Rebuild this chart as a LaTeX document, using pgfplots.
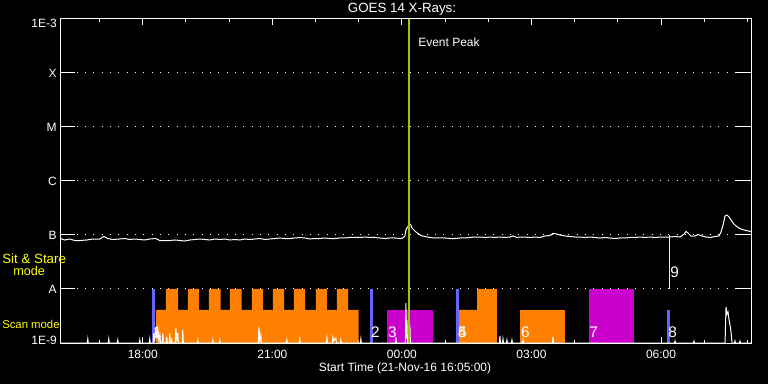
\documentclass[border=0pt]{standalone}
\usepackage{fontspec}
\setmainfont{Liberation Sans}
\usepackage{pgfplots}
\pgfplotsset{compat=1.18}
\definecolor{orng}{HTML}{FF8000}
\definecolor{mgnt}{HTML}{CC00CC}
\definecolor{blu}{HTML}{6464FF}
\definecolor{grn}{HTML}{99CC00}
\definecolor{ylw}{HTML}{FFFF00}
\begin{document}
\begin{tikzpicture}
\useasboundingbox (0,0) rectangle (576pt,288pt);
\fill[black] (0,0) rectangle (576pt,288pt);
\begin{axis}[
  at={(45pt,30.75pt)}, anchor=south west,
  scale only axis, width=518.25pt, height=243pt,
  xmin=16.0833, xmax=32.0833,
  ymode=log, ymin=1e-9, ymax=1e-3,
  axis line style={white, line width=0.75pt},
  tick align=inside,
  major tick length=4.5pt, minor tick length=2.25pt,
  tick style={white, line width=0.75pt},
  xtick={18,21,24,27,30},
  xticklabels={18:00,21:00,00:00,03:00,06:00},
  minor xtick={17,19,20,22,23,25,26,28,29,31,32},
  ytick={1e-9,1e-8,1e-7,1e-6,1e-5,1e-4,1e-3},
  yticklabels={\raisebox{2.25pt}[\height][\depth]{1E-9},A\hspace{7.5pt},B\hspace{7.5pt},C\hspace{7.5pt},M\hspace{7.5pt},X\hspace{7.5pt},\raisebox{-3pt}[\height][\depth]{1E-3}},
  yminorticks=false,
  ymajorgrids,
  major grid style={white, line width=0.75pt, dash pattern=on 0.75pt off 5.5pt},
  tick label style={font=\fontsize{9}{10}\selectfont, text=white},
  xticklabel style={inner sep=0pt, yshift=-5.25pt},
  yticklabel style={inner sep=0pt, xshift=-2.25pt, anchor=east},
]
% observation bars
\addplot[fill=orng, draw=none] coordinates {(18.302,1e-9)(18.302,4.1e-9)(18.533,4.1e-9)(18.533,1e-8)(18.818,1e-8)(18.818,4.1e-9)(19.043,4.1e-9)(19.043,1e-8)(19.305,1e-8)(19.305,4.1e-9)(19.529,4.1e-9)(19.529,1e-8)(19.800,1e-8)(19.800,4.1e-9)(20.016,4.1e-9)(20.016,1e-8)(20.287,1e-8)(20.287,4.1e-9)(20.525,4.1e-9)(20.525,1e-8)(20.787,1e-8)(20.787,4.1e-9)(21.012,4.1e-9)(21.012,1e-8)(21.274,1e-8)(21.274,4.1e-9)(21.498,4.1e-9)(21.498,1e-8)(21.760,1e-8)(21.760,4.1e-9)(22.008,4.1e-9)(22.008,1e-8)(22.270,1e-8)(22.270,4.1e-9)(22.494,4.1e-9)(22.494,1e-8)(22.756,1e-8)(22.756,4.1e-9)(22.997,4.1e-9)(22.997,1e-9)} -- cycle;
\addplot[fill=orng, draw=none] coordinates {(25.304,1e-9)(25.304,4.1e-9)(25.744,4.1e-9)(25.744,1e-8)(26.201,1e-8)(26.201,1e-9)} -- cycle;
\addplot[fill=orng, draw=none] coordinates {(26.733,1e-9)(26.733,4.1e-9)(27.776,4.1e-9)(27.776,1e-9)} -- cycle;
\addplot[fill=mgnt, draw=none] coordinates {(23.653,1e-9)(23.653,4.1e-9)(24.711,4.1e-9)(24.711,1e-9)} -- cycle;
\addplot[fill=mgnt, draw=none] coordinates {(28.332,1e-9)(28.332,1e-8)(29.374,1e-8)(29.374,1e-9)} -- cycle;
\addplot[fill=blu, draw=none] coordinates {(18.209,1e-9)(18.209,1e-8)(18.279,1e-8)(18.279,1e-9)} -- cycle;
\addplot[fill=blu, draw=none] coordinates {(23.259,1e-9)(23.259,1e-8)(23.321,1e-8)(23.321,1e-9)} -- cycle;
\addplot[fill=blu, draw=none] coordinates {(25.251,1e-9)(25.251,1e-8)(25.313,1e-8)(25.313,1e-9)} -- cycle;
\addplot[fill=blu, draw=none] coordinates {(30.138,1e-9)(30.138,4.1e-9)(30.208,4.1e-9)(30.208,1e-9)} -- cycle;
% long channel
\addplot[white, line width=0.75pt] coordinates {(16.078,8.8e-8)(16.124,8.43e-8)(16.194,8.08e-8)(16.310,8.43e-8)(16.425,7.91e-8)(16.541,7.91e-8)(16.703,8.08e-8)(16.842,8.43e-8)(17.004,8.43e-8)(17.097,9.38e-8)(17.190,8.61e-8)(17.306,8.25e-8)(17.468,8.43e-8)(17.584,8.61e-8)(17.699,8.25e-8)(17.815,8.43e-8)(17.931,8.25e-8)(18.047,8.08e-8)(18.163,8.43e-8)(18.302,8.61e-8)(18.394,7.91e-8)(18.510,7.91e-8)(18.626,7.91e-8)(18.742,8.08e-8)(18.858,7.91e-8)(18.973,7.74e-8)(19.089,8.08e-8)(19.205,8.25e-8)(19.321,8.43e-8)(19.437,8.25e-8)(19.553,8.08e-8)(19.668,8.43e-8)(19.784,8.25e-8)(19.900,8.43e-8)(20.016,8.08e-8)(20.132,8.25e-8)(20.247,8.08e-8)(20.363,8.43e-8)(20.479,8.25e-8)(20.595,8.43e-8)(20.711,8.61e-8)(20.827,8.25e-8)(20.942,8.43e-8)(21.058,8.61e-8)(21.174,8.80e-8)(21.290,8.61e-8)(21.406,8.61e-8)(21.521,8.80e-8)(21.637,8.99e-8)(21.753,8.80e-8)(21.869,8.43e-8)(21.985,8.61e-8)(22.101,8.61e-8)(22.216,8.80e-8)(22.332,8.61e-8)(22.448,8.61e-8)(22.564,8.80e-8)(22.680,8.80e-8)(22.795,8.99e-8)(22.911,8.99e-8)(23.027,8.99e-8)(23.143,9.18e-8)(23.259,8.99e-8)(23.375,8.99e-8)(23.490,8.80e-8)(23.606,8.61e-8)(23.722,8.80e-8)(23.838,8.80e-8)(23.954,8.61e-8)(24.023,8.80e-8)(24.069,9.58e-8)(24.093,1.24e-7)(24.116,1.35e-7)(24.185,1.60e-7)(24.208,1.53e-7)(24.232,1.35e-7)(24.278,1.24e-7)(24.324,1.14e-7)(24.371,1.07e-7)(24.440,0.979e-7)(24.533,9.38e-8)(24.649,8.99e-8)(24.764,8.80e-8)(24.880,8.80e-8)(24.996,8.80e-8)(25.112,8.61e-8)(25.228,8.61e-8)(25.344,8.80e-8)(25.459,8.80e-8)(25.575,8.99e-8)(25.691,9.18e-8)(25.807,9.18e-8)(25.923,8.99e-8)(26.038,9.18e-8)(26.154,8.99e-8)(26.270,9.18e-8)(26.386,8.99e-8)(26.502,9.18e-8)(26.571,9.58e-8)(26.664,8.99e-8)(26.733,9.18e-8)(26.849,9.18e-8)(26.965,8.99e-8)(27.081,9.18e-8)(27.197,8.99e-8)(27.312,9.58e-8)(27.428,9.79e-8)(27.498,1.07e-7)(27.590,1.04e-7)(27.660,1.00e-7)(27.776,9.58e-8)(27.892,9.38e-8)(28.007,9.18e-8)(28.123,9.18e-8)(28.239,8.99e-8)(28.355,9.18e-8)(28.471,8.99e-8)(28.586,8.80e-8)(28.702,8.99e-8)(28.818,8.80e-8)(28.934,8.61e-8)(29.050,8.80e-8)(29.166,8.80e-8)(29.281,8.99e-8)(29.397,8.99e-8)(29.513,9.18e-8)(29.629,8.99e-8)(29.745,9.18e-8)(29.860,8.99e-8)(29.976,9.18e-8)(30.092,9.18e-8)(30.208,9.18e-8)(30.324,9.38e-8)(30.440,9.18e-8)(30.532,1.04e-7)(30.579,1.16e-7)(30.625,1.09e-7)(30.694,9.58e-8)(30.787,9.58e-8)(30.857,1.02e-7)(30.949,9.58e-8)(31.042,9.18e-8)(31.135,8.99e-8)(31.250,9.38e-8)(31.343,9.58e-8)(31.389,1.14e-7)(31.436,1.53e-7)(31.482,2.25e-7)(31.528,2.34e-7)(31.574,2.16e-7)(31.621,1.90e-7)(31.667,1.67e-7)(31.713,1.53e-7)(31.783,1.38e-7)(31.853,1.29e-7)(31.922,1.24e-7)(32.015,1.19e-7)(32.084,1.16e-7)};
% short channel
\addplot[white, line width=0.75pt] coordinates {(16.0833,1e-9)
(16.715,1e-9)(16.727,1.19e-9)(16.739,1e-9)
(17.201,1e-9)(17.213,1.19e-9)(17.225,1e-9)
(17.409,1e-9)(17.421,1.14e-9)(17.433,1e-9)
(17.919,1e-9)(17.931,1.14e-9)(17.943,1e-9)
(18.151,1e-9)(18.163,1.19e-9)(18.175,1e-9)
(18.243,1e-9)(18.255,1.53e-9)(18.279,1.1e-9)(18.302,1.98e-9)(18.325,1.2e-9)(18.348,1.74e-9)(18.371,1.1e-9)(18.394,1.41e-9)(18.41,1e-9)
(18.452,1e-9)(18.464,1.53e-9)(18.476,1e-9)
(18.544,1e-9)(18.556,1.29e-9)(18.568,1e-9)
(18.614,1e-9)(18.626,1.53e-9)(18.638,1e-9)
(18.660,1e-9)(18.672,1.14e-9)(18.684,1e-9)
(18.753,1e-9)(18.765,1.90e-9)(18.788,1.15e-9)(18.811,1.53e-9)(18.823,1e-9)
(18.915,1e-9)(18.927,1.74e-9)(18.939,1e-9)
(19.263,1e-9)(19.275,1.14e-9)(19.287,1e-9)
(19.610,1e-9)(19.622,1.14e-9)(19.634,1e-9)
(19.772,1e-9)(19.784,1.14e-9)(19.796,1e-9)
(20.676,1e-9)(20.688,1.98e-9)(20.711,1.1e-9)(20.734,1.41e-9)(20.746,1e-9)
(21.324,1e-9)(21.336,1.14e-9)(21.348,1e-9)
(21.625,1e-9)(21.637,1.19e-9)(21.649,1e-9)
(22.251,1e-9)(22.263,1.24e-9)(22.275,1e-9)
(22.390,1e-9)(22.402,1.29e-9)(22.425,1.1e-9)(22.471,1.24e-9)(22.483,1e-9)
(22.575,1e-9)(22.587,1.14e-9)(22.599,1e-9)
(23.038,1e-9)(23.050,1.19e-9)(23.062,1e-9)
(23.849,1e-9)(23.861,1.29e-9)(23.873,1e-9)
(24.081,1e-9)(24.093,5.50e-9)(24.104,1.2e-9)(24.116,2.67e-9)(24.128,1e-9)
(24.173,1e-9)(24.185,2.15e-9)(24.197,1e-9)
(26.258,1e-9)(26.270,1.35e-9)(26.282,1e-9)
(26.328,1e-9)(26.340,1.19e-9)(26.352,1e-9)
(26.420,1e-9)(26.432,1.14e-9)(26.444,1e-9)
(26.536,1e-9)(26.548,1.14e-9)(26.560,1e-9)
(26.791,1e-9)(26.803,1.14e-9)(26.815,1e-9)
(27.486,1e-9)(27.498,1.29e-9)(27.510,1e-9)
(30.312,1e-9)(30.324,1.09e-9)(30.336,1e-9)
(30.752,1e-9)(30.764,1.09e-9)(30.776,1e-9)
(31.482,1e-9)(31.505,4.64e-9)(31.528,3.44e-9)(31.551,3.75e-9)(31.574,2.70e-9)(31.598,2.15e-9)(31.621,1.60e-9)(31.644,1e-9)
(31.701,1e-9)(31.713,1.09e-9)(31.725,1e-9)
(31.817,1e-9)(31.829,1.09e-9)(31.841,1e-9)
(32.0833,1e-9)};
% event peak and sit & stare markers
\addplot[grn, line width=1.5pt] coordinates {(24.162,1e-9)(24.162,1e-3)};
\addplot[ylw, line width=0.75pt] coordinates {(30.185,1e-8)(30.185,1e-7)};
% long y ticks
\draw[white, line width=0.75pt] (axis cs:16.0833,1e-8) -- ([xshift=11.25pt]axis cs:16.0833,1e-8);
\draw[white, line width=0.75pt] (axis cs:16.0833,1e-7) -- ([xshift=11.25pt]axis cs:16.0833,1e-7);
\draw[white, line width=0.75pt] (axis cs:16.0833,1e-6) -- ([xshift=11.25pt]axis cs:16.0833,1e-6);
\draw[white, line width=0.75pt] (axis cs:16.0833,1e-5) -- ([xshift=11.25pt]axis cs:16.0833,1e-5);
\draw[white, line width=0.75pt] (axis cs:16.0833,1e-4) -- ([xshift=11.25pt]axis cs:16.0833,1e-4);
\draw[white, line width=0.75pt] (axis cs:32.0833,1e-8) -- ([xshift=-11.25pt]axis cs:32.0833,1e-8);
\draw[white, line width=0.75pt] (axis cs:32.0833,1e-7) -- ([xshift=-11.25pt]axis cs:32.0833,1e-7);
\draw[white, line width=0.75pt] (axis cs:32.0833,1e-6) -- ([xshift=-11.25pt]axis cs:32.0833,1e-6);
\draw[white, line width=0.75pt] (axis cs:32.0833,1e-5) -- ([xshift=-11.25pt]axis cs:32.0833,1e-5);
\draw[white, line width=0.75pt] (axis cs:32.0833,1e-4) -- ([xshift=-11.25pt]axis cs:32.0833,1e-4);
% numbers
\begin{scope}[every node/.style={anchor=west, inner sep=0pt, text=white, font=\fontsize{11.5}{12}\selectfont}]
\node at (axis cs:18.232,1.56e-9) {1};
\node at (axis cs:23.282,1.56e-9) {2};
\node at (axis cs:23.676,1.56e-9) {3};
\node at (axis cs:25.297,1.56e-9) {4};
\node at (axis cs:25.297,1.56e-9) {5};
\node at (axis cs:26.757,1.56e-9) {6};
\node at (axis cs:28.332,1.56e-9) {7};
\node at (axis cs:30.162,1.56e-9) {8};
\node at (axis cs:30.208,2.02e-8) {9};
\end{scope}
\end{axis}
\node[text=white, font=\fontsize{10}{12}\selectfont] at (301.5pt,280.9pt) {GOES 14 X-Rays:};
\node[anchor=west, inner sep=0pt, text=white, font=\fontsize{9}{10}\selectfont] at (313.5pt,256.1pt) {Event Peak};
\node[text=white, font=\fontsize{9}{10}\selectfont] at (303.75pt,12pt) {Start Time (21-Nov-16 16:05:00)};
\node[anchor=west, inner sep=0pt, text=ylw, font=\fontsize{10}{11}\selectfont] at (1.5pt,93.75pt) {Sit \& Stare};
\node[anchor=west, inner sep=0pt, text=ylw, font=\fontsize{9.5}{10}\selectfont] at (9.75pt,84.75pt) {mode};
\node[anchor=west, inner sep=0pt, text=ylw, font=\fontsize{8.5}{10}\selectfont] at (1.5pt,45pt) {Scan mode};
\end{tikzpicture}
\end{document}
